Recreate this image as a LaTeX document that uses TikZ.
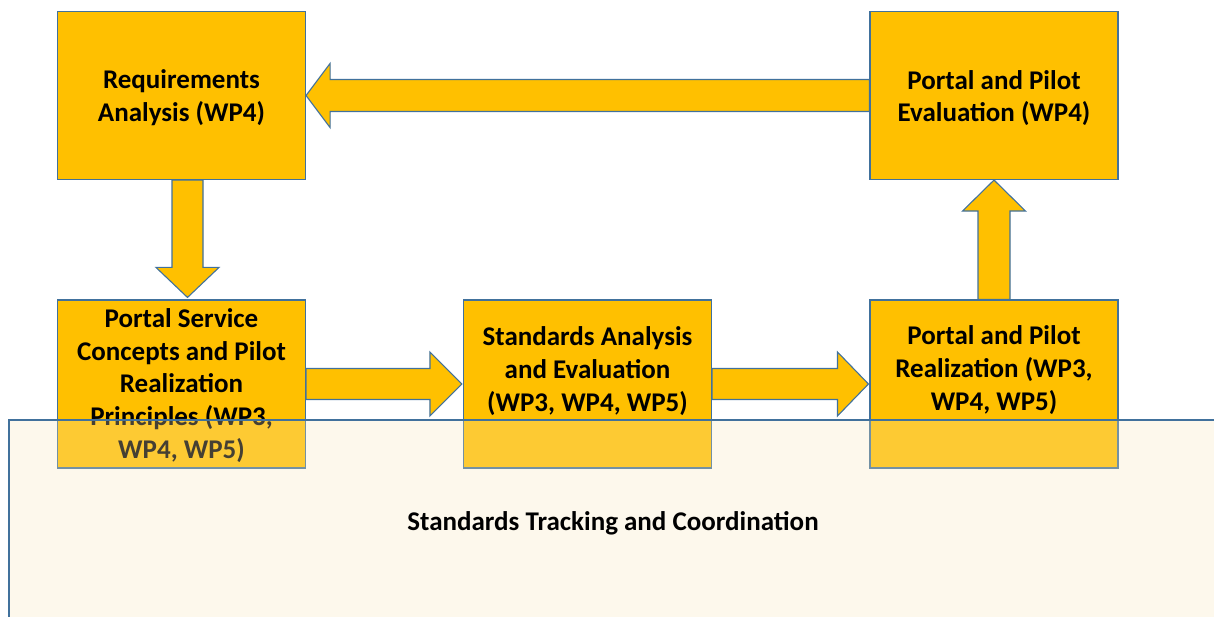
\documentclass[tikz,border=0pt]{standalone}
\usepackage{fontspec}
\setmainfont{Carlito}
\usetikzlibrary{calc}
\definecolor{boxfill}{HTML}{FFC000}
\definecolor{boxline}{HTML}{41719C}
\definecolor{veil}{RGB}{248,230,185}
\tikzset{
  x=1pt, y=-1pt,
  box/.style={draw=boxline, line width=1.1pt, fill=boxfill, minimum width=248pt, minimum height=168pt,
    inner sep=0pt},
  boxtext/.style={inner sep=0pt, align=center, font=\bfseries\fontsize{27}{32.7}\selectfont},
  barrow/.style={draw=boxline, line width=1.1pt, fill=boxfill, line join=miter},
  veilbox/.style={fill=veil, fill opacity=0.28, draw=boxline, line width=1.1pt},
  label/.style={font=\bfseries\fontsize{27}{32}\selectfont, inner sep=0pt}
}
\begin{document}
\begin{tikzpicture}
\useasboundingbox (0,0) rectangle (1214,617);
% boxes
\node[box] (req)  at (181.5,95.5) {};
\node[box] (eval) at (994,95.5) {};
\node[box] (psc)  at (181.5,384) {};
\node[box] (std)  at (587.5,384) {};
\node[box] (real) at (994,384) {};
\node[boxtext] (reqT)  at ($(req.center)+(0,2.5)$) {Requirements\\Analysis (WP4)};
\node[boxtext] (evalT) at ($(eval.center)+(0,2.5)$) {Portal and Pilot\\Evaluation (WP4)};
\node[boxtext] (pscT)  at ($(psc.center)+(0,1.5)$) {Portal Service\\Concepts and Pilot\\Realization\\Principles (WP3,\\WP4, WP5)};
\node[boxtext] (stdT)  at ($(std.center)+(0,-13)$) {Standards Analysis\\and Evaluation\\(WP3, WP4, WP5)};
\node[boxtext] (realT) at ($(real.center)+(0,-14)$) {Portal and Pilot\\Realization (WP3,\\WP4, WP5)};
% block arrows
\draw[barrow] ($(eval.west)+(0,-16)$) -- ($(req.east)+(24,-16)$) -- ($(req.east)+(24,-32)$) -- (req.east)
  -- ($(req.east)+(24,32)$) -- ($(req.east)+(24,16)$) -- ($(eval.west)+(0,16)$) -- cycle;
\draw[barrow] ($(req.south)+(-9.5,0)$) -- ($(psc.north)+(-9.5,-32)$) -- ($(psc.north)+(-25.5,-32)$) -- ($(psc.north)+(6,-2)$)
  -- ($(psc.north)+(37.5,-32)$) -- ($(psc.north)+(21.5,-32)$) -- ($(req.south)+(21.5,0)$) -- cycle;
\draw[barrow] ($(psc.east)+(0,-15.5)$) -- ($(std.west)+(-33,-15.5)$) -- ($(std.west)+(-33,-32)$) -- ($(std.west)+(-1,0)$)
  -- ($(std.west)+(-33,32)$) -- ($(std.west)+(-33,15.5)$) -- ($(psc.east)+(0,15.5)$) -- cycle;
\draw[barrow] ($(std.east)+(0,-15.5)$) -- ($(real.west)+(-32,-15.5)$) -- ($(real.west)+(-32,-32)$) -- ($(real.west)+(-1,0)$)
  -- ($(real.west)+(-32,32)$) -- ($(real.west)+(-32,15.5)$) -- ($(std.east)+(0,15.5)$) -- cycle;
\draw[barrow] ($(real.north)+(-16,0)$) -- ($(eval.south)+(-16,31)$) -- ($(eval.south)+(-31.5,31)$) -- (eval.south)
  -- ($(eval.south)+(31.5,31)$) -- ($(eval.south)+(16,31)$) -- ($(real.north)+(16,0)$) -- cycle;
% tracking band
\coordinate (bandNW) at (9,420);
\coordinate (bandSE) at (1225,630);
\draw[veilbox] (bandNW) rectangle (bandSE);
\node[label] (track) at (613,523.5) {Standards Tracking and Coordination};
\end{tikzpicture}
\end{document}
